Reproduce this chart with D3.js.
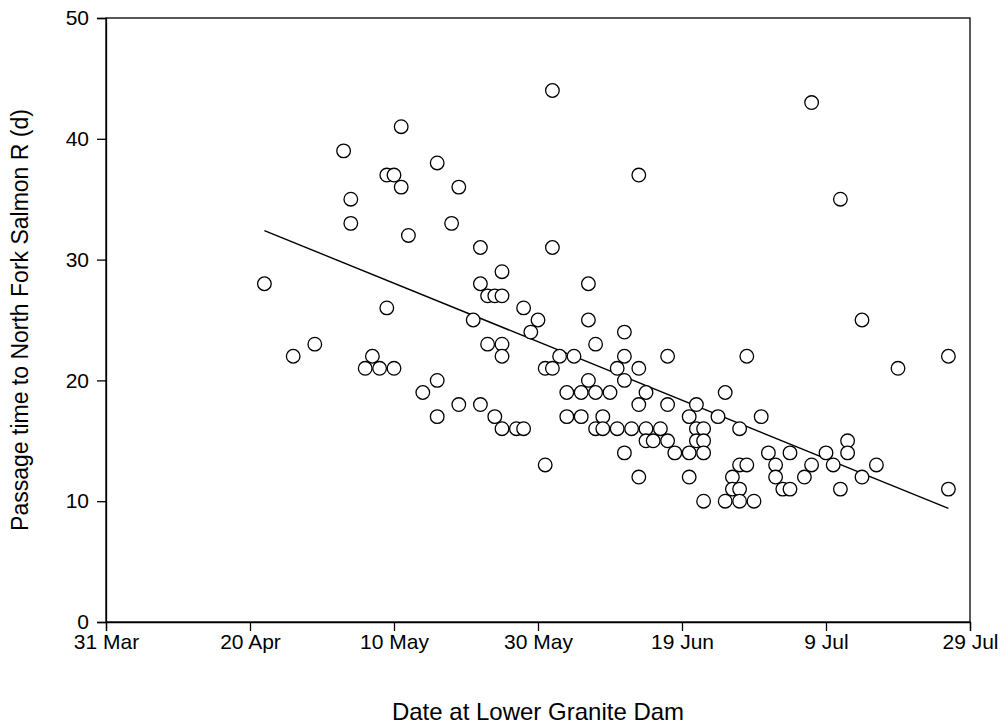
<!DOCTYPE html>
<html>
<head>
<meta charset="utf-8">
<script src="https://cdn.jsdelivr.net/npm/d3@7"></script>
<style>
  html, body { margin: 0; padding: 0; background: #fff; }
  svg { display: block; font-family: "Liberation Sans", Arial, sans-serif; }
</style>
</head>
<body>
<svg id="chart" width="1008" height="726"></svg>
<script>
// Days after 31 March at Lower Granite Dam
const days = [
  22, 26, 29, 33, 34, 34, 36, 37, 38, 39, 39, 40, 40, 41, 41, 42, 44, 46, 46, 46, 48, 49, 49,
  51, 52, 52, 52, 53, 53, 54, 54, 55, 55, 55, 55, 55, 57, 58, 58, 59, 60,
  61, 61, 62, 62, 62, 63, 64, 64, 65, 66, 66, 67, 67, 67, 68, 68, 68, 69, 69, 70,
  71, 71, 72, 72, 72, 72, 73, 74, 74, 74, 74, 75, 75, 75, 76, 77, 78, 78, 78, 79,
  81, 81, 81, 82, 82, 82, 83, 83, 83, 83, 85, 86, 86, 87, 87, 88, 88, 88, 88, 89, 89, 90,
  91, 92, 93, 93, 94, 95, 95, 97, 98, 98, 100, 101, 102, 102, 103, 103, 105, 105, 107, 110, 117, 117
];
// Passage time to North Fork Salmon R (d)
const passage = [
  28, 22, 23, 39, 35, 33, 21, 22, 21, 26, 37, 37, 21, 36, 41, 32, 19, 20, 17, 38, 33, 36, 18,
  25, 31, 28, 18, 27, 23, 27, 17, 29, 27, 23, 22, 16, 16, 16, 26, 24, 25,
  21, 13, 44, 31, 21, 22, 19, 17, 22, 19, 17, 28, 25, 20, 23, 19, 16, 17, 16, 19,
  21, 16, 24, 22, 20, 14, 16, 37, 21, 18, 12, 19, 16, 15, 15, 16, 22, 18, 15, 14,
  17, 14, 12, 18, 16, 15, 16, 15, 14, 10, 17, 19, 10, 12, 11, 16, 13, 11, 10, 13, 22, 10,
  17, 14, 13, 12, 11, 14, 11, 12, 43, 13, 14, 13, 35, 11, 15, 14, 25, 12, 13, 21, 22, 11
];
// Fitted trend line (end points)
const trendDays = [22, 117];
const trendValues = [32.4, 9.4];

const yTicks = [0, 10, 20, 30, 40, 50];
const xTickDays = [0, 20, 40, 60, 80, 100, 120];
const xTitle = "Date at Lower Granite Dam";
const yTitle = "Passage time to North Fork Salmon R (d)";

const origin = new Date(Date.UTC(2000, 2, 31));
const toDate = d => d3.utcDay.offset(origin, d);

const svg = d3.select("#chart");
const mLeft = 106, mRight = 970, mTop = 18, mBottom = 622;

const x = d3.scaleUtc()
  .domain([toDate(0), toDate(120)])
  .range([mLeft, mRight]);
const y = d3.scaleLinear().domain([0, 50]).range([mBottom, mTop]);

const fmt = d3.utcFormat("%-d %b");

// frame
svg.append("rect")
  .attr("x", mLeft).attr("y", mTop)
  .attr("width", mRight - mLeft).attr("height", mBottom - mTop)
  .attr("fill", "none").attr("stroke", "#000").attr("stroke-width", 1.3);

const xAxis = svg.append("g")
  .attr("transform", `translate(0,${mBottom})`)
  .call(d3.axisBottom(x).tickValues(xTickDays.map(toDate)).tickFormat(fmt)
    .tickSize(9).tickPadding(3));
const yAxis = svg.append("g")
  .attr("transform", `translate(${mLeft},0)`)
  .call(d3.axisLeft(y).tickValues(yTicks).tickSize(9).tickPadding(8));

[xAxis, yAxis].forEach(g => {
  g.select(".domain").attr("stroke", "#000").attr("stroke-width", 1.3);
  g.selectAll(".tick line").attr("stroke", "#000").attr("stroke-width", 1.3);
  g.selectAll(".tick text").attr("fill", "#000").style("font-size", "21px")
    .style("font-family", '"Liberation Sans", Arial, sans-serif');
});

const data = days.map((d, i) => ({ d, v: passage[i] }));
const fitLine = trendDays.map((d, i) => ({ d, v: trendValues[i] }));

svg.append("path")
  .datum(fitLine)
  .attr("fill", "none").attr("stroke", "#000").attr("stroke-width", 1.4)
  .attr("d", d3.line().x(p => x(toDate(p.d))).y(p => y(p.v)));

svg.append("g").selectAll("circle")
  .data(data)
  .join("circle")
  .attr("cx", p => x(toDate(p.d)))
  .attr("cy", p => y(p.v))
  .attr("r", 6.8)
  .attr("fill", "#fff")
  .attr("stroke", "#000")
  .attr("stroke-width", 1.3);

svg.append("text")
  .attr("x", (mLeft + mRight) / 2).attr("y", 720)
  .attr("text-anchor", "middle")
  .style("font-size", "24px")
  .text(xTitle);

svg.append("text")
  .attr("transform", `translate(28,${(mTop + mBottom) / 2}) rotate(-90)`)
  .attr("text-anchor", "middle")
  .style("font-size", "23px")
  .text(yTitle);
</script>
</body>
</html>
